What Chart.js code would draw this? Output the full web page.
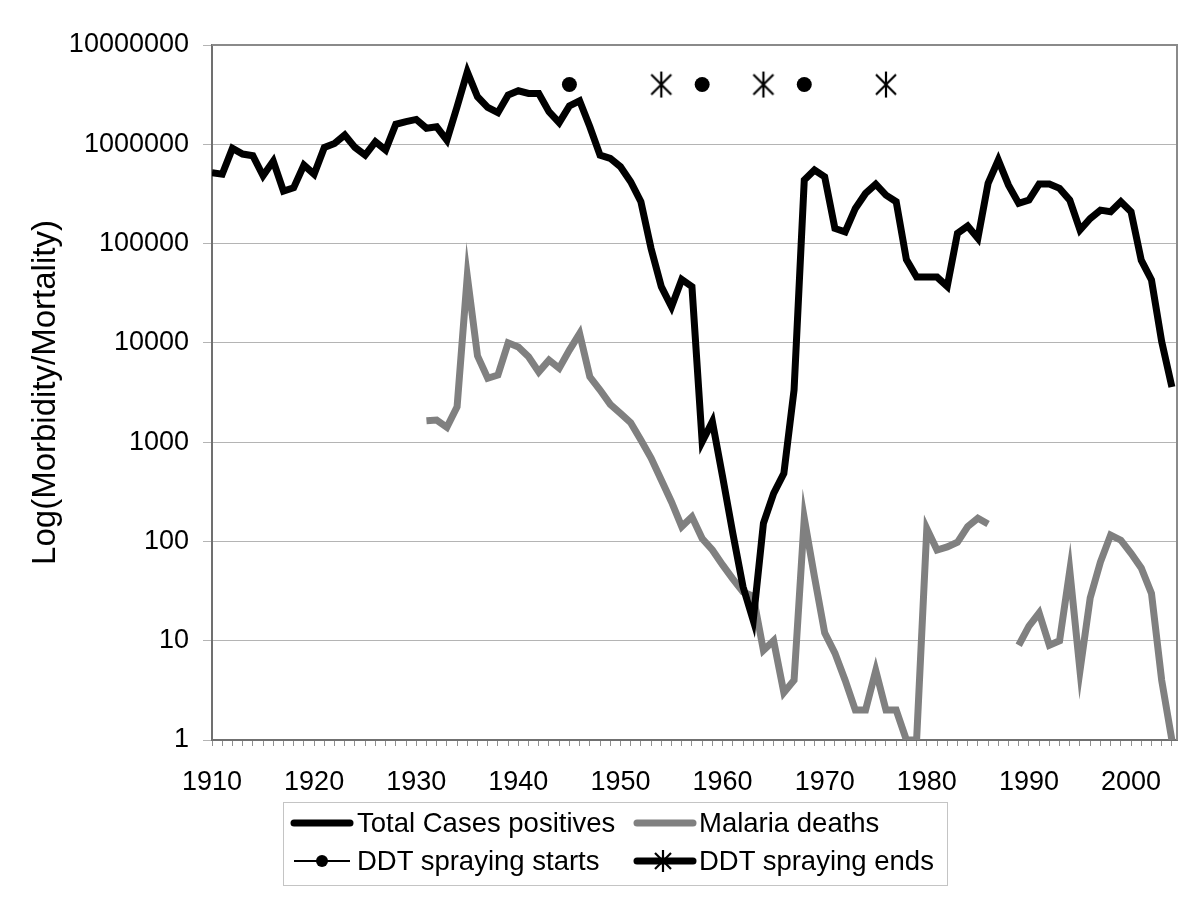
<!DOCTYPE html>
<html>
<head>
<meta charset="utf-8">
<script src="https://cdn.jsdelivr.net/npm/chart.js@4.4.0/dist/chart.umd.min.js"></script>
<style>
body { margin: 0; background: #fff; }
#wrap { position: relative; width: 1200px; height: 906px; font-family: "Liberation Sans", Arial, sans-serif; }
#legend { position: absolute; left: 283px; top: 802px; width: 665px; height: 84px; border: 1px solid #c4c4c4; box-sizing: border-box; }
.item { position: absolute; height: 38px; line-height: 38px; font-size: 27.5px; color: #000; white-space: nowrap; }
.item svg { position: absolute; left: 0; top: 0; }
.item span { position: absolute; top: 0; }
</style>
</head>
<body>
<div id="wrap">
	<canvas id="chart" width="1200" height="906"></canvas>
	<div id="legend">
		<div class="item" style="left:6px; top:1px;">
			<svg width="64" height="38"><line x1="4" y1="19" x2="60" y2="19" stroke="#000" stroke-width="7" stroke-linecap="round"/></svg>
			<span style="left:67px;">Total Cases positives</span>
		</div>
		<div class="item" style="left:349px; top:1px;">
			<svg width="64" height="38"><line x1="4" y1="19" x2="60" y2="19" stroke="#808080" stroke-width="7" stroke-linecap="round"/></svg>
			<span style="left:66px;">Malaria deaths</span>
		</div>
		<div class="item" style="left:6px; top:39px;">
			<svg width="64" height="38"><line x1="4" y1="19" x2="60" y2="19" stroke="#000" stroke-width="2"/><circle cx="32" cy="19" r="6" fill="#000"/></svg>
			<span style="left:67px;">DDT spraying starts</span>
		</div>
		<div class="item" style="left:349px; top:39px;">
			<svg width="64" height="38"><line x1="4" y1="19" x2="60" y2="19" stroke="#000" stroke-width="7" stroke-linecap="round"/>
				<g stroke="#000" stroke-width="2.2"><line x1="30" y1="8" x2="30" y2="30"/><line x1="22" y1="11" x2="38" y2="27"/><line x1="38" y1="11" x2="22" y2="27"/></g></svg>
			<span style="left:66px;">DDT spraying ends</span>
		</div>
	</div>
</div>
<script>
var years = [
	1910, 1911, 1912, 1913, 1914, 1915, 1916, 1917, 1918, 1919,
	1920, 1921, 1922, 1923, 1924, 1925, 1926, 1927, 1928, 1929,
	1930, 1931, 1932, 1933, 1934, 1935, 1936, 1937, 1938, 1939,
	1940, 1941, 1942, 1943, 1944, 1945, 1946, 1947, 1948, 1949,
	1950, 1951, 1952, 1953, 1954, 1955, 1956, 1957, 1958, 1959,
	1960, 1961, 1962, 1963, 1964, 1965, 1966, 1967, 1968, 1969,
	1970, 1971, 1972, 1973, 1974, 1975, 1976, 1977, 1978, 1979,
	1980, 1981, 1982, 1983, 1984, 1985, 1986, 1987, 1988, 1989,
	1990, 1991, 1992, 1993, 1994, 1995, 1996, 1997, 1998, 1999,
	2000, 2001, 2002, 2003, 2004
];

// total positive cases, one per year
var cases = [
	517000, 500000, 910000, 797000, 766000, 482000, 677000, 338000, 365000, 618000,
	500000, 930000, 1020000, 1240000, 930000, 778000, 1060000, 875000, 1590000, 1690000,
	1780000, 1450000, 1500000, 1100000, 2390000, 5370000, 3010000, 2350000, 2080000, 3130000,
	3460000, 3250000, 3250000, 2130000, 1650000, 2430000, 2740000, 1500000, 778000, 721000,
	594000, 420000, 264000, 89000, 36800, 23100, 43500, 36800, 1010, 1610,
	450, 121, 35, 16, 152, 305, 485, 3350, 436000, 550000,
	471000, 142000, 131000, 226000, 320000, 397000, 308000, 264000, 69000, 46000,
	46000, 46000, 37000, 127000, 150000, 113000, 404000, 693000, 388000, 254000,
	274000, 397000, 397000, 360000, 274000, 137000, 179000, 217000, 209000, 264000,
	209000, 68000, 43000, 10300, 3600
];

// malaria deaths (null = no record)
var deaths = [
	null, null, null, null, null, null, null, null, null, null,
	null, null, null, null, null, null, null, null, null, null,
	null, 1640, 1670, 1410, 2270, 47000, 7400, 4400, 4750, 10000,
	9100, 7250, 5100, 6700, 5550, 8450, 12400, 4550, 3350, 2400,
	1950, 1570, 1050, 690, 415, 250, 141, 177, 107, 82,
	58, 42, 31, 28, 8, 10, 3, 4, 171, 44,
	12, 7.5, 4, 2, 2, 5, 2, 2, 1, 1,
	135, 82, 88, 98, 141, 171, 150, null, null, 9,
	14, 19, 9, 10, 51, 5, 27, 62, 116, 103,
	76, 54, 30, 4, 1
];

var sprayStartYears = [1945, 1958, 1968];
var sprayEndYears = [1954, 1964, 1976];
var markerLevel = 4000000;

var yTicks = [1, 10, 100, 1000, 10000, 100000, 1000000, 10000000];

function toPoints(xs, ys)
{
	var pts = [];
	for(var i = 0; i < xs.length; i ++)
	{
		pts.push({x: xs[i], y: ys[i]});
	}
	return pts;
}

function markerPoints(xs)
{
	var pts = [];
	for(var i = 0; i < xs.length; i ++)
	{
		pts.push({x: xs[i], y: markerLevel});
	}
	return pts;
}

// six-armed asterisk used for the "spraying ends" marks
function makeAsterisk()
{
	var c = document.createElement('canvas');
	c.width = 28;
	c.height = 28;
	var g = c.getContext('2d');
	g.strokeStyle = '#000';
	g.lineWidth = 2.2;
	g.beginPath();
	g.moveTo(14, 1); g.lineTo(14, 27);
	g.moveTo(4, 4); g.lineTo(24, 24);
	g.moveTo(24, 4); g.lineTo(4, 24);
	g.stroke();
	return c;
}

var frame = {
	id: 'frame',
	beforeDatasetsDraw: function(chart) {
		var a = chart.chartArea;
		var c = chart.ctx;
		c.save();
		c.strokeStyle = '#8a8a8a';
		c.lineWidth = 2;
		c.beginPath();
		c.moveTo(a.left, a.top);
		c.lineTo(a.right, a.top);
		c.lineTo(a.right, a.bottom);
		c.stroke();
		c.restore();
	}
};

Chart.defaults.font.family = '"Liberation Sans", Arial, sans-serif';
Chart.defaults.color = '#000';

var ctx = document.getElementById('chart');
var myChart = new Chart(ctx, {
	type: 'line',
	data: {
		datasets: [
			{
				label: 'Total Cases positives',
				data: toPoints(years, cases),
				borderColor: '#000',
				borderWidth: 7,
				pointRadius: 0,
				tension: 0,
				fill: false
			},
			{
				label: 'Malaria deaths',
				data: toPoints(years, deaths),
				borderColor: '#808080',
				borderWidth: 7,
				pointRadius: 0,
				tension: 0,
				fill: false,
				spanGaps: false
			},
			{
				label: 'DDT spraying starts',
				data: markerPoints(sprayStartYears),
				showLine: false,
				pointStyle: 'circle',
				pointRadius: 7.5,
				pointBorderWidth: 0,
				pointBackgroundColor: '#000'
			},
			{
				label: 'DDT spraying ends',
				data: markerPoints(sprayEndYears),
				showLine: false,
				pointStyle: makeAsterisk(),
				pointRadius: 14
			}
		]
	},
	options: {
		responsive: false,
		animation: false,
		layout: { padding: { left: 0, top: 45, right: 23, bottom: 0 } },
		plugins: {
			legend: { display: false },
			tooltip: { enabled: false }
		},
		scales: {
			x: {
				type: 'linear',
				min: 1910,
				max: 2004.5,
				afterBuildTicks: function(axis) {
					axis.ticks = years.map(function(v){ return {value: v}; });
				},
				afterFit: function(s) { s.height = 166; },
				ticks: {
					autoSkip: false,
					maxRotation: 0,
					minRotation: 0,
					padding: 20,
					font: { size: 27 },
					callback: function(v) { return v % 10 === 0 ? String(v) : ''; }
				},
				grid: { drawOnChartArea: false, drawTicks: true, tickLength: 6, color: '#909090', lineWidth: 1 },
				border: { display: true, color: '#707070', width: 2 }
			},
			y: {
				type: 'logarithmic',
				min: 1,
				max: 10000000,
				afterBuildTicks: function(axis) {
					axis.ticks = yTicks.map(function(v){ return {value: v}; });
				},
				afterFit: function(s) { s.width = 212; },
				ticks: {
					padding: 14,
					font: { size: 27 },
					callback: function(v) { return String(v); }
				},
				grid: { color: '#b4b4b4', lineWidth: 1, drawTicks: true, tickLength: 9 },
				border: { display: true, color: '#707070', width: 2 },
				title: {
					display: true,
					text: 'Log(Morbidity/Mortality)',
					font: { size: 33 },
					padding: { top: 26, bottom: 0 }
				}
			}
		}
	},
	plugins: [frame]
});
</script>
</body>
</html>
